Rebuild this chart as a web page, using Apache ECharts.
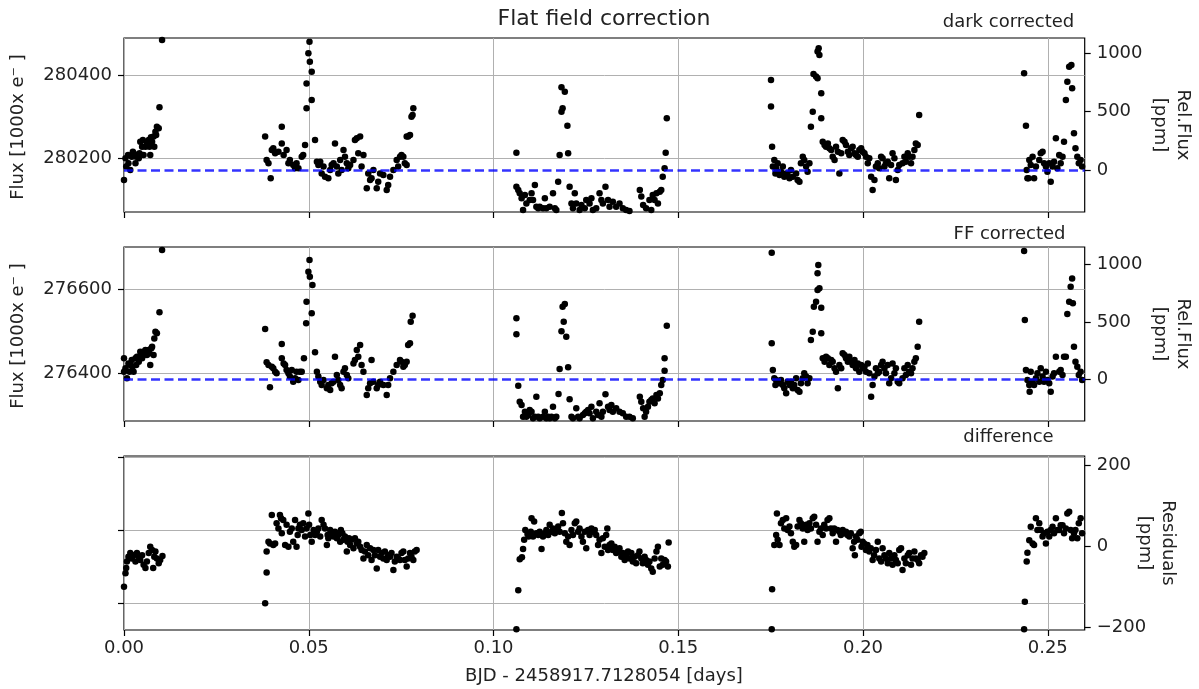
<!DOCTYPE html>
<html>
<head>
<meta charset="utf-8">
<script src="https://cdn.jsdelivr.net/npm/echarts@6/dist/echarts.min.js"></script>
<style>
html, body { margin: 0; padding: 0; background: #fff; }
#chart { width: 1199px; height: 689px; }
</style>
</head>
<body>
<div id="chart"></div>
<script>
// ---- tick values -------------------------------------------------------
const timeTicks = [0, 0.05, 0.10, 0.15, 0.20, 0.25];
const darkFluxTicks = [280200, 280400];      // 1000 e-
const ffFluxTicks = [276400, 276600];        // 1000 e-
const diffFluxTicks = [3750, 3800, 3850];    // 1000 e-, unlabelled
const relFluxTicks = [0, 500, 1000];         // ppm
const residualTicks = [-200, 0, 200];        // ppm

// ---- reference levels and axis limits ----------------------------------
const darkMean = 280172;   // mean flux of the dark corrected light curve [1000 e-]
const ffMean = 276384;     // mean flux of the flat-field corrected light curve [1000 e-]
const timeRange = [0, 0.26];
const darkRelRange = [-359.8, 1130.7];
const ffRelRange = [-360.3, 1150.5];
const residualRange = [-206, 224];
const diffFluxRange = [3731.5, 3850.7];

// ---- light curves: [time (days), relative flux (ppm)] -------------------
const darkCorrected = [
  [0.0000,-86],[0.0004,100],[0.0006,29],[0.0011,128],[0.0012,57],[0.0017,0],[0.0021,114],[0.0024,157],[0.0026,143],
  [0.0031,57],[0.0033,114],[0.0035,128],[0.0040,100],[0.0042,143],[0.0044,243],[0.0049,200],[0.0051,257],[0.0053,128],
  [0.0058,200],[0.0062,228],[0.0067,257],[0.0069,200],[0.0071,128],[0.0073,280],[0.0076,243],[0.0080,286],[0.0082,200],
  [0.0085,328],[0.0087,300],[0.0089,371],[0.0094,357],[0.0096,537],[0.0103,1114],
  [0.0382,286],[0.0386,86],[0.0391,57],[0.0397,-71],[0.0400,171],[0.0404,186],[0.0409,143],[0.0418,157],[0.0427,371],
  [0.0427,228],[0.0432,128],[0.0440,171],[0.0445,57],[0.0449,86],[0.0458,43],[0.0463,14],[0.0467,57],[0.0472,14],
  [0.0481,114],[0.0485,128],[0.0490,214],[0.0494,528],[0.0494,742],[0.0499,999],[0.0502,1099],[0.0503,928],[0.0508,842],
  [0.0508,600],[0.0517,257],[0.0522,71],[0.0526,43],[0.0531,71],[0.0535,-29],[0.0540,29],[0.0544,-57],[0.0553,-71],
  [0.0558,0],[0.0562,43],[0.0567,57],[0.0571,228],[0.0576,29],[0.0580,-29],[0.0585,86],[0.0589,0],[0.0594,171],
  [0.0598,114],[0.0603,57],[0.0607,14],[0.0612,43],[0.0621,86],[0.0625,257],[0.0630,271],[0.0634,143],[0.0639,286],
  [0.0643,29],[0.0648,128],[0.0657,-157],[0.0661,-29],[0.0666,-86],[0.0670,-71],[0.0675,0],[0.0684,-157],[0.0688,-100],
  [0.0693,-29],[0.0702,-43],[0.0711,-171],[0.0715,-128],[0.0720,-57],[0.0729,0],[0.0738,86],[0.0742,29],[0.0747,114],
  [0.0751,128],[0.0756,114],[0.0760,57],[0.0765,43],[0.0765,286],[0.0769,286],[0.0774,300],[0.0778,457],[0.0781,471],
  [0.0783,528],
  [0.1062,148],[0.1062,-143],[0.1067,-171],[0.1071,-200],[0.1076,-243],[0.1080,-343],[0.1085,-214],[0.1089,-286],
  [0.1098,-257],[0.1103,-200],[0.1107,-257],[0.1112,-128],[0.1116,-314],[0.1121,-328],[0.1125,-314],[0.1134,-328],
  [0.1139,-243],[0.1143,-328],[0.1152,-314],[0.1161,-200],[0.1166,-328],[0.1170,-343],[0.1175,-100],[0.1179,128],
  [0.1184,500],[0.1187,528],[0.1184,708],[0.1193,671],[0.1200,380],[0.1202,143],[0.1206,-143],[0.1211,-286],[0.1215,-328],
  [0.1220,-200],[0.1224,-286],[0.1233,-343],[0.1238,-300],[0.1247,-328],[0.1251,-257],[0.1260,-286],[0.1265,-243],
  [0.1269,-343],[0.1278,-328],[0.1287,-200],[0.1292,-257],[0.1296,-286],[0.1303,-143],[0.1310,-257],[0.1314,-314],
  [0.1323,-271],[0.1332,-314],[0.1341,-286],[0.1350,-328],[0.1359,-343],[0.1368,-352],[0.1396,-171],[0.1400,-228],
  [0.1405,-300],[0.1413,-328],[0.1422,-257],[0.1427,-343],[0.1431,-214],[0.1436,-257],[0.1441,-200],[0.1445,-286],
  [0.1450,-186],[0.1454,-171],[0.1458,-57],[0.1463,14],[0.1466,148],[0.1469,443],
  [0.1751,771],[0.1751,543],[0.1754,200],[0.1756,29],[0.1760,86],[0.1763,-29],[0.1765,14],[0.1769,57],[0.1774,-43],
  [0.1778,-14],[0.1783,29],[0.1787,-57],[0.1792,-29],[0.1796,-43],[0.1801,-71],[0.1805,0],[0.1810,-57],[0.1819,-29],
  [0.1823,-86],[0.1828,-100],[0.1832,57],[0.1837,114],[0.1841,86],[0.1846,29],[0.1850,-14],[0.1855,57],[0.1859,371],
  [0.1864,500],[0.1866,822],[0.1873,800],[0.1877,785],[0.1877,1014],[0.1880,1042],[0.1882,985],[0.1887,657],[0.1887,443],
  [0.1891,243],[0.1896,214],[0.1900,200],[0.1905,228],[0.1909,186],[0.1914,171],[0.1918,114],[0.1923,86],[0.1927,200],
  [0.1932,157],[0.1936,-29],[0.1941,143],[0.1945,257],[0.1950,243],[0.1954,214],[0.1959,157],[0.1963,128],[0.1968,186],
  [0.1972,200],[0.1977,143],[0.1981,128],[0.1986,114],[0.1990,171],[0.1995,186],[0.1999,157],[0.2004,143],[0.2008,114],
  [0.2013,57],[0.2017,100],[0.2022,-57],[0.2026,-171],[0.2031,-86],[0.2035,29],[0.2040,57],[0.2044,14],[0.2049,114],
  [0.2053,100],[0.2058,29],[0.2062,57],[0.2067,71],[0.2071,-71],[0.2076,43],[0.2080,143],[0.2085,100],[0.2089,-86],
  [0.2094,0],[0.2098,43],[0.2107,57],[0.2112,114],[0.2116,71],[0.2121,143],[0.2125,114],[0.2130,57],[0.2134,114],
  [0.2139,171],[0.2143,228],[0.2148,214],[0.2152,471],
  [0.2436,828],[0.2441,380],[0.2443,0],[0.2445,-71],[0.2448,-71],[0.2450,86],[0.2454,43],[0.2459,114],[0.2463,-71],
  [0.2468,29],[0.2477,86],[0.2481,143],[0.2486,157],[0.2490,57],[0.2495,29],[0.2499,-14],[0.2504,57],[0.2508,-100],
  [0.2513,29],[0.2517,71],[0.2522,271],[0.2526,14],[0.2531,128],[0.2535,57],[0.2540,114],[0.2544,243],[0.2549,600],
  [0.2553,757],[0.2558,885],[0.2564,899],[0.2566,700],[0.2571,314],[0.2575,186],[0.2580,114],[0.2584,57],[0.2589,86],
  [0.2593,29]
];

const ffCorrected = [
  [0.0000,184],[0.0000,68],[0.0004,97],[0.0008,10],[0.0012,140],[0.0015,68],[0.0017,126],[0.0021,169],[0.0023,111],
  [0.0026,68],[0.0031,184],[0.0033,126],[0.0035,198],[0.0040,155],[0.0042,198],[0.0044,242],[0.0049,184],[0.0052,213],
  [0.0053,242],[0.0058,256],[0.0062,213],[0.0067,256],[0.0069,227],[0.0071,126],[0.0074,271],[0.0076,285],[0.0080,213],
  [0.0082,357],[0.0085,415],[0.0089,401],[0.0096,583],[0.0103,1124],
  [0.0382,438],[0.0386,149],[0.0391,126],[0.0395,-68],[0.0400,111],[0.0404,97],[0.0409,68],[0.0413,54],[0.0427,308],
  [0.0427,184],[0.0432,140],[0.0436,126],[0.0440,82],[0.0445,54],[0.0449,25],[0.0454,82],[0.0458,-19],[0.0463,10],
  [0.0467,68],[0.0472,-4],[0.0476,68],[0.0481,68],[0.0487,184],[0.0493,488],[0.0494,676],[0.0499,936],[0.0502,1038],
  [0.0503,893],[0.0508,575],[0.0510,820],[0.0517,236],[0.0522,68],[0.0526,25],[0.0531,-19],[0.0535,-48],[0.0540,-4],
  [0.0549,-77],[0.0553,-48],[0.0558,-91],[0.0562,-33],[0.0567,-19],[0.0571,198],[0.0576,39],[0.0580,-4],[0.0585,-48],
  [0.0589,-77],[0.0594,68],[0.0598,97],[0.0603,39],[0.0607,10],[0.0621,140],[0.0625,169],[0.0630,256],[0.0634,198],
  [0.0639,300],[0.0643,126],[0.0648,68],[0.0657,-135],[0.0661,-77],[0.0666,-33],[0.0670,169],[0.0675,-19],[0.0684,-77],
  [0.0688,-48],[0.0693,-19],[0.0702,-48],[0.0711,-135],[0.0715,-48],[0.0720,10],[0.0729,68],[0.0738,126],[0.0747,169],
  [0.0751,155],[0.0756,111],[0.0760,126],[0.0765,155],[0.0769,300],[0.0774,314],[0.0776,502],[0.0781,554],
  [0.1062,531],[0.1062,392],[0.1067,-54],[0.1071,-193],[0.1076,-221],[0.1080,-323],[0.1085,-279],[0.1089,-323],
  [0.1094,-308],[0.1098,-265],[0.1103,-279],[0.1107,-337],[0.1112,-323],[0.1116,-149],[0.1121,-323],[0.1125,-337],
  [0.1134,-323],[0.1139,-279],[0.1143,-337],[0.1148,-323],[0.1152,-337],[0.1157,-323],[0.1161,-236],[0.1166,-337],
  [0.1170,-323],[0.1176,-126],[0.1179,91],[0.1184,420],[0.1187,632],[0.1190,502],[0.1193,655],[0.1197,372],[0.1202,106],
  [0.1206,-172],[0.1211,-323],[0.1215,-337],[0.1224,-250],[0.1229,-323],[0.1233,-337],[0.1242,-308],[0.1247,-294],
  [0.1251,-279],[0.1256,-265],[0.1260,-294],[0.1265,-236],[0.1269,-337],[0.1278,-279],[0.1283,-308],[0.1287,-207],
  [0.1292,-323],[0.1296,-279],[0.1303,-129],[0.1310,-236],[0.1314,-265],[0.1319,-221],[0.1323,-279],[0.1332,-250],
  [0.1341,-279],[0.1350,-294],[0.1359,-323],[0.1368,-323],[0.1377,-337],[0.1396,-149],[0.1400,-193],[0.1405,-250],
  [0.1409,-323],[0.1413,-279],[0.1418,-236],[0.1422,-193],[0.1427,-178],[0.1431,-164],[0.1436,-207],[0.1441,-135],
  [0.1445,-164],[0.1450,-120],[0.1454,-48],[0.1458,-4],[0.1463,77],[0.1463,184],[0.1469,467],
  [0.1753,1101],[0.1753,314],[0.1756,82],[0.1760,10],[0.1763,-48],[0.1765,-4],[0.1769,-19],[0.1774,-33],[0.1778,-4],
  [0.1783,-48],[0.1787,-77],[0.1792,-120],[0.1796,-19],[0.1801,-48],[0.1805,-19],[0.1810,-77],[0.1814,-48],[0.1819,10],
  [0.1823,-91],[0.1828,-106],[0.1832,-33],[0.1837,10],[0.1841,54],[0.1846,25],[0.1850,-33],[0.1855,10],[0.1859,343],
  [0.1864,415],[0.1867,632],[0.1873,676],[0.1877,777],[0.1877,922],[0.1879,994],[0.1882,792],[0.1887,624],[0.1887,401],
  [0.1891,184],[0.1896,155],[0.1900,198],[0.1905,184],[0.1909,126],[0.1914,169],[0.1918,155],[0.1923,97],[0.1927,68],
  [0.1932,-77],[0.1936,126],[0.1941,97],[0.1945,227],[0.1950,213],[0.1954,184],[0.1959,155],[0.1963,198],[0.1968,155],
  [0.1972,126],[0.1977,169],[0.1981,97],[0.1986,140],[0.1990,68],[0.1995,126],[0.1999,97],[0.2004,111],[0.2008,68],
  [0.2013,140],[0.2017,54],[0.2022,-149],[0.2026,-48],[0.2031,25],[0.2035,97],[0.2040,54],[0.2044,68],[0.2049,126],
  [0.2053,155],[0.2058,97],[0.2062,54],[0.2067,126],[0.2071,-33],[0.2076,10],[0.2080,140],[0.2085,54],[0.2089,97],
  [0.2094,-19],[0.2098,-33],[0.2107,10],[0.2112,97],[0.2116,39],[0.2121,126],[0.2125,68],[0.2130,54],[0.2134,97],
  [0.2139,155],[0.2143,184],[0.2148,285],[0.2152,502],
  [0.2436,1116],[0.2438,517],[0.2441,82],[0.2445,-4],[0.2450,-48],[0.2451,-106],[0.2454,68],[0.2459,-19],[0.2463,-48],
  [0.2468,10],[0.2472,54],[0.2477,-19],[0.2481,97],[0.2486,25],[0.2490,-19],[0.2495,68],[0.2499,-4],[0.2504,-33],
  [0.2508,-106],[0.2513,25],[0.2517,54],[0.2522,198],[0.2531,68],[0.2535,82],[0.2540,39],[0.2544,198],[0.2549,198],
  [0.2553,569],[0.2558,676],[0.2562,806],[0.2566,878],[0.2568,662],[0.2571,285],[0.2575,155],[0.2580,111],[0.2584,39],
  [0.2589,68],[0.2593,-4]
];

const residuals = [
  [0.0000,-99],[0.0004,-66],[0.0006,-53],[0.0008,-37],[0.0012,-25],[0.0017,-16],[0.0021,-29],[0.0026,-21],[0.0031,-37],
  [0.0035,-16],[0.0040,-25],[0.0044,-33],[0.0049,-21],[0.0053,-45],[0.0058,-53],[0.0062,-37],[0.0067,-16],[0.0071,0],
  [0.0076,-8],[0.0079,-53],[0.0082,-25],[0.0085,-12],[0.0089,-29],[0.0094,-41],[0.0098,-33],[0.0104,-23],
  [0.0382,-140],[0.0386,-64],[0.0386,-12],[0.0391,12],[0.0395,8],[0.0400,78],[0.0404,4],[0.0409,8],[0.0413,58],
  [0.0418,45],[0.0422,78],[0.0425,70],[0.0427,33],[0.0431,66],[0.0436,4],[0.0440,54],[0.0445,0],[0.0449,37],[0.0454,45],
  [0.0458,12],[0.0463,66],[0.0467,0],[0.0470,29],[0.0472,45],[0.0476,54],[0.0481,41],[0.0485,58],[0.0490,25],[0.0494,45],
  [0.0499,82],[0.0501,54],[0.0504,29],[0.0508,12],[0.0513,41],[0.0517,29],[0.0522,37],[0.0526,45],[0.0531,25],[0.0535,66],
  [0.0540,54],[0.0544,45],[0.0549,4],[0.0551,29],[0.0553,21],[0.0558,41],[0.0562,33],[0.0567,25],[0.0571,37],[0.0576,21],
  [0.0580,29],[0.0585,12],[0.0587,41],[0.0591,33],[0.0594,17],[0.0598,25],[0.0603,-12],[0.0605,12],[0.0609,21],[0.0612,4],
  [0.0616,17],[0.0621,-4],[0.0625,21],[0.0630,8],[0.0634,12],[0.0639,0],[0.0643,-8],[0.0648,-29],[0.0652,-12],[0.0657,4],
  [0.0661,-21],[0.0666,-4],[0.0670,-33],[0.0675,-8],[0.0679,-21],[0.0684,-54],[0.0688,-8],[0.0693,-25],[0.0697,-16],
  [0.0702,-29],[0.0706,-12],[0.0711,-33],[0.0715,-21],[0.0720,-25],[0.0724,-16],[0.0729,-58],[0.0733,-37],[0.0738,-25],
  [0.0742,-29],[0.0747,-33],[0.0751,-16],[0.0756,-12],[0.0760,-33],[0.0765,-49],[0.0769,-29],[0.0774,-16],[0.0778,-25],
  [0.0783,-33],[0.0787,-12],[0.0792,-8],
  [0.1062,-204],[0.1067,-108],[0.1071,-31],[0.1077,-26],[0.1080,-6],[0.1083,17],[0.1086,41],[0.1092,31],[0.1095,25],
  [0.1101,37],[0.1103,70],[0.1107,25],[0.1110,62],[0.1116,33],[0.1121,29],[0.1125,37],[0.1130,-6],[0.1134,25],[0.1139,33],
  [0.1143,41],[0.1148,29],[0.1152,54],[0.1157,37],[0.1161,45],[0.1166,33],[0.1170,41],[0.1175,50],[0.1179,37],[0.1185,83],
  [0.1188,58],[0.1193,33],[0.1197,12],[0.1202,25],[0.1206,4],[0.1211,41],[0.1215,29],[0.1220,58],[0.1224,62],[0.1229,37],
  [0.1233,45],[0.1238,25],[0.1242,12],[0.1247,37],[0.1251,-4],[0.1256,41],[0.1260,29],[0.1265,45],[0.1269,37],[0.1274,41],
  [0.1278,29],[0.1283,4],[0.1287,17],[0.1292,-16],[0.1296,21],[0.1301,0],[0.1305,29],[0.1308,45],[0.1310,-8],[0.1314,4],
  [0.1319,8],[0.1323,-8],[0.1328,0],[0.1332,-16],[0.1337,-12],[0.1341,-4],[0.1346,-25],[0.1350,-16],[0.1355,-33],
  [0.1359,-21],[0.1364,-12],[0.1368,-29],[0.1373,-16],[0.1377,-37],[0.1382,-25],[0.1386,-41],[0.1391,-21],[0.1395,-12],
  [0.1400,-29],[0.1404,-41],[0.1409,-25],[0.1413,-33],[0.1418,-45],[0.1422,-37],[0.1427,-54],[0.1431,-62],[0.1436,-29],
  [0.1441,-12],[0.1445,0],[0.1450,-49],[0.1454,-29],[0.1458,-45],[0.1463,-33],[0.1467,-37],[0.1472,-49],[0.1474,10],
  [0.1753,-204],[0.1754,-105],[0.1760,4],[0.1765,29],[0.1767,82],[0.1769,17],[0.1774,4],[0.1778,58],[0.1783,66],
  [0.1787,45],[0.1792,70],[0.1796,41],[0.1801,50],[0.1805,33],[0.1810,12],[0.1814,0],[0.1819,4],[0.1823,50],[0.1828,66],
  [0.1832,58],[0.1837,45],[0.1841,12],[0.1846,54],[0.1850,41],[0.1855,58],[0.1859,45],[0.1864,70],[0.1868,74],[0.1873,54],
  [0.1877,12],[0.1882,37],[0.1886,45],[0.1891,29],[0.1895,54],[0.1900,45],[0.1904,66],[0.1909,70],[0.1913,45],[0.1918,33],
  [0.1922,45],[0.1927,12],[0.1931,41],[0.1936,37],[0.1940,29],[0.1945,41],[0.1949,33],[0.1954,37],[0.1958,29],[0.1963,25],
  [0.1967,33],[0.1972,-4],[0.1976,12],[0.1978,-21],[0.1981,25],[0.1985,17],[0.1990,33],[0.1994,37],[0.1996,0],[0.1999,12],
  [0.2003,8],[0.2008,-8],[0.2012,4],[0.2017,-12],[0.2021,-4],[0.2026,-33],[0.2030,-21],[0.2035,-8],[0.2040,12],[0.2044,-29],
  [0.2049,-37],[0.2053,-4],[0.2058,-21],[0.2062,-29],[0.2067,-41],[0.2071,-16],[0.2076,-29],[0.2080,-45],[0.2085,-21],
  [0.2089,-33],[0.2094,-41],[0.2098,-8],[0.2103,-4],[0.2107,-58],[0.2112,-29],[0.2116,-41],[0.2121,-21],[0.2125,-16],
  [0.2130,-45],[0.2134,-29],[0.2139,-12],[0.2143,-29],[0.2148,-33],[0.2152,-41],[0.2157,-21],[0.2161,-25],[0.2166,-16],
  [0.2436,-204],[0.2438,-136],[0.2443,-37],[0.2445,-15],[0.2450,16],[0.2454,49],[0.2459,8],[0.2463,4],[0.2468,70],
  [0.2472,41],[0.2477,58],[0.2481,41],[0.2486,25],[0.2490,33],[0.2495,8],[0.2499,37],[0.2504,25],[0.2508,41],[0.2513,49],
  [0.2517,33],[0.2522,70],[0.2526,41],[0.2531,41],[0.2535,53],[0.2540,53],[0.2544,33],[0.2549,45],[0.2553,82],[0.2558,86],
  [0.2562,41],[0.2566,21],[0.2571,33],[0.2575,41],[0.2580,21],[0.2584,58],[0.2589,70],[0.2593,33]
];

// ---- styling --------------------------------------------------------------
const FONT = 'DejaVu Sans';
const TEXT = '#222';
const TICK_STYLE = { color: '#000', width: 1.2 };
const GRID_LINE = { color: '#b0b0b0', width: 1 };
const gridTops = [38, 247, 456];

const toFlux = (mean, ppm) => mean * (1 + ppm / 1e6);
const minusSign = v => String(v).replace('-', '\u2212');

const grids = gridTops.map(top => ({
  left: 124, right: 114.3, top: top, height: 174,
  show: true, borderColor: '#000', borderWidth: 1.2,
  outerBoundsMode: 'none', containLabel: false
}));

const xAxes = gridTops.map((_, i) => ({
  type: 'value', gridIndex: i, min: timeRange[0], max: timeRange[1],
  axisLine: { show: false, onZero: false },
  axisTick: { show: true, customValues: timeTicks, length: 6, lineStyle: TICK_STYLE },
  axisLabel: {
    show: i === 2, customValues: timeTicks, margin: 9,
    formatter: v => v.toFixed(2), fontFamily: FONT, fontSize: 18, color: TEXT
  },
  splitLine: { show: true, lineStyle: GRID_LINE }
}));

function leftAxis(gridIndex, min, max, ticks, showLabels) {
  return {
    type: 'value', gridIndex, position: 'left', min, max,
    axisLine: { show: false, onZero: false },
    axisTick: { show: true, customValues: ticks, length: 6, lineStyle: TICK_STYLE },
    axisLabel: {
      show: showLabels, customValues: ticks, margin: 12,
      formatter: v => String(Math.round(v)), fontFamily: FONT, fontSize: 18, color: TEXT
    },
    splitLine: { show: true, lineStyle: GRID_LINE }
  };
}

function rightAxis(gridIndex, range, ticks) {
  return {
    type: 'value', gridIndex, position: 'right', min: range[0], max: range[1],
    axisLine: { show: false, onZero: false },
    axisTick: { show: true, customValues: ticks, length: 6, lineStyle: TICK_STYLE },
    axisLabel: {
      show: true, customValues: ticks, margin: 12,
      formatter: minusSign, fontFamily: FONT, fontSize: 18, color: TEXT
    },
    splitLine: { show: false }
  };
}

const yAxes = [
  leftAxis(0, toFlux(darkMean, darkRelRange[0]), toFlux(darkMean, darkRelRange[1]), darkFluxTicks, true),
  rightAxis(0, darkRelRange, relFluxTicks),
  leftAxis(1, toFlux(ffMean, ffRelRange[0]), toFlux(ffMean, ffRelRange[1]), ffFluxTicks, true),
  rightAxis(1, ffRelRange, relFluxTicks),
  leftAxis(2, diffFluxRange[0], diffFluxRange[1], diffFluxTicks, false),
  rightAxis(2, residualRange, residualTicks)
];

const meanLine = {
  silent: true, symbol: 'none', animation: false,
  label: { show: false },
  lineStyle: { color: 'rgba(0,0,255,0.8)', width: 2.5, type: [9, 4.5] },
  data: [{ yAxis: 0 }]
};

function scatter(data, i, withMean) {
  const s = {
    type: 'scatter', xAxisIndex: i, yAxisIndex: 2 * i + 1, data,
    symbol: 'circle', symbolSize: 6.5,
    itemStyle: { color: '#000', opacity: 1 }, silent: true
  };
  if (withMean) s.markLine = meanLine;
  return s;
}

function text(str, x, y, size, rotation, lineHeight) {
  return {
    type: 'text', x, y, rotation: rotation || 0, silent: true,
    style: {
      text: str, fill: TEXT, fontFamily: FONT, fontSize: size,
      align: 'center', verticalAlign: 'middle', lineHeight: lineHeight || size
    }
  };
}

const option = {
  animation: false,
  backgroundColor: '#fff',
  grid: grids,
  xAxis: xAxes,
  yAxis: yAxes,
  series: [
    scatter(darkCorrected, 0, true),
    scatter(ffCorrected, 1, true),
    scatter(residuals, 2, false)
  ],
  graphic: [
    text('Flat field correction', 604, 19, 22),
    text('dark corrected', 1008.5, 22, 18),
    text('FF corrected', 1009.5, 234, 18),
    text('difference', 1008.5, 437, 18),
    text('Flux [1000x e\u207B ]', 18.5, 127, 18, Math.PI / 2),
    text('Flux [1000x e\u207B ]', 18.5, 336, 18, Math.PI / 2),
    text('Rel.Flux\n[ppm]', 1171, 125, 18, -Math.PI / 2, 23),
    text('Rel.Flux\n[ppm]', 1171, 334, 18, -Math.PI / 2, 23),
    text('Residuals\n[ppm]', 1156, 543, 18, -Math.PI / 2, 23),
    text('BJD - 2458917.7128054 [days]', 604, 676, 18)
  ]
};

const chart = echarts.init(document.getElementById('chart'), null, { renderer: 'canvas' });
chart.setOption(option);
</script>
</body>
</html>
